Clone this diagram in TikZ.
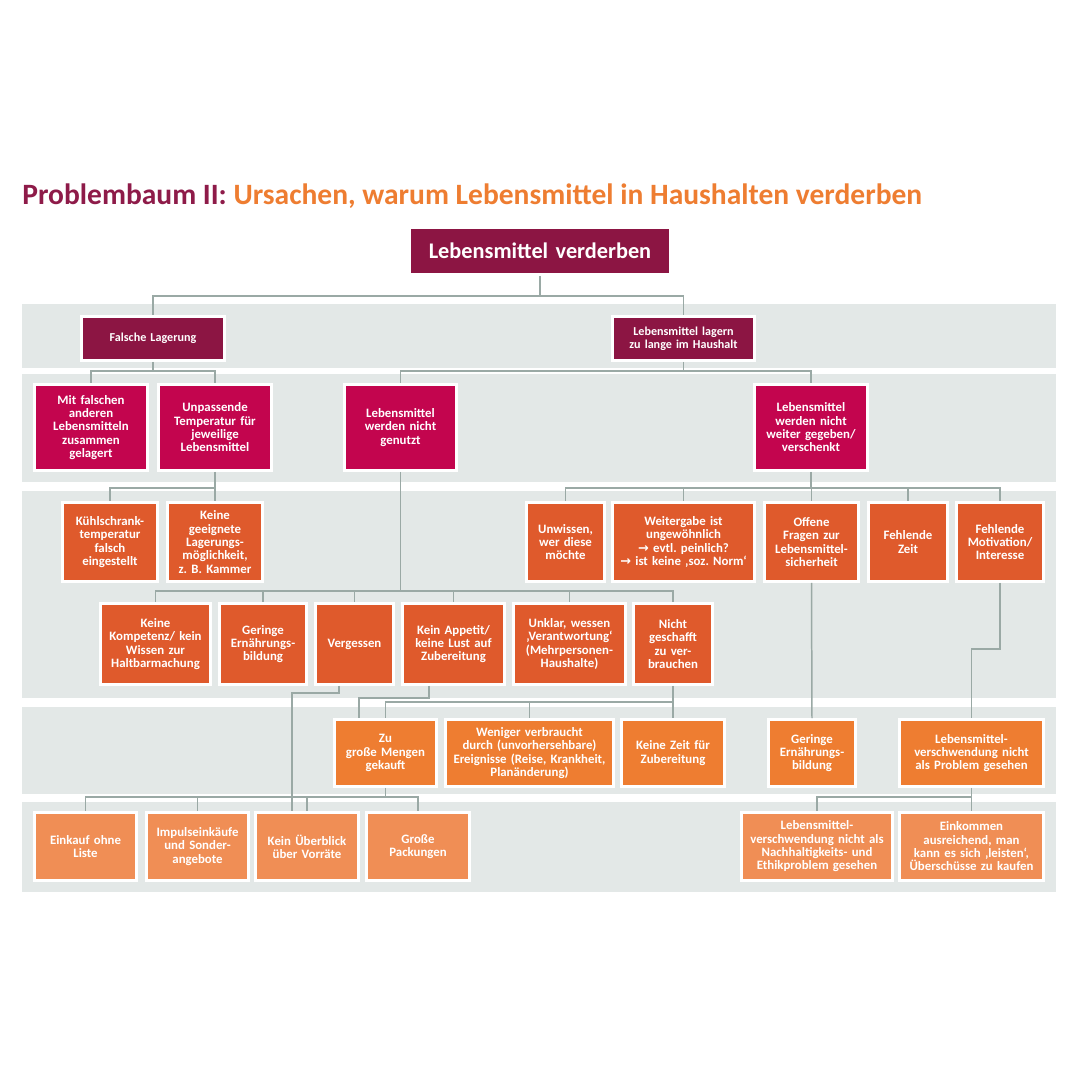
\documentclass[tikz,border=0pt]{standalone}
\usepackage{fontspec}
\setmainfont{Carlito}
\newfontfamily\arrfont{DejaVu Sans}
\usetikzlibrary{calc}
\definecolor{cBand}{HTML}{E3E8E7}
\definecolor{cRoot}{HTML}{8C1543}
\definecolor{cCrim}{HTML}{C3054E}
\definecolor{cRed}{HTML}{DF5A2C}
\definecolor{cOr}{HTML}{EE7D31}
\definecolor{cLt}{HTML}{F08E55}
\definecolor{cLine}{HTML}{9AA9A5}
\definecolor{cTitA}{HTML}{8E1B49}
\definecolor{cTitB}{HTML}{EE7D31}
\newcommand\bxfont{\fontsize{7.3pt}{7.6pt}\selectfont\bfseries\frenchspacing}
\newcommand\arw{{\arrfont →}}
\newcommand\bnode[7]{%
  \pgfmathsetlengthmacro\bw{(#5-#3)*0.02cm}%
  \pgfmathsetlengthmacro\bh{(#6-#4)*0.02cm}%
  \pgfmathsetlengthmacro\tw{(#5-#3-4)*0.02cm}%
  \node[#1, minimum width=\bw, minimum height=\bh, text width=\tw] (#2) at ({(#3+#5)/2},{(#4+#6)/2}) {#7};}
\begin{document}
\begin{tikzpicture}[x=0.02cm,y=-0.02cm,
  box/.style={align=center, inner sep=0pt, outer sep=1.7pt, text=white, font=\bxfont,
    preaction={draw=white, line width=3.4pt}},
  lroot/.style={box, fill=cRoot, font=\fontsize{12.7pt}{14pt}\selectfont\bfseries},
  lone/.style={box, fill=cRoot, font=\fontsize{6.9pt}{7.5pt}\selectfont\bfseries},
  ltwo/.style={box, fill=cCrim},
  lthree/.style={box, fill=cRed},
  lfour/.style={box, fill=cOr},
  lfive/.style={box, fill=cLt},
  band/.style={fill=cBand},
  conn/.style={draw=cLine, line width=0.85pt}]
\useasboundingbox (0,0) rectangle (1080,1080);
\fill[white] (0,0) rectangle (1080,1080);
% bands
\fill[band] (22,304) rectangle (1056,368);
\fill[band] (22,374) rectangle (1056,482);
\fill[band] (22,491) rectangle (1056,698);
\fill[band] (22,707) rectangle (1056,794);
\fill[band] (22,802) rectangle (1056,892);
% title
\node[anchor=base west, inner sep=0pt, font=\fontsize{16.8pt}{19pt}\selectfont\bfseries] (title) at (22,204)
  {\textcolor{cTitA}{Problembaum II:} \textcolor{cTitB}{Ursachen, warum Lebensmittel in Haushalten verderben}};
% root and level 1
\bnode{lroot}{root}{411}{229}{669}{273}{Lebensmittel verderben}
\bnode{lone}{fl}{83}{318}{223}{359}{Falsche Lagerung}
\bnode{lone}{lz}{614}{318}{753}{359}{Lebensmittel lagern\\zu lange im Haushalt}
% level 2
\bnode{ltwo}{mit}{36}{386}{146}{469}{Mit falschen\\anderen\\Lebensmitteln\\zusammen\\gelagert}
\bnode{ltwo}{unp}{160}{386}{270}{469}{Unpassende\\Temperatur für\\jeweilige\\Lebensmittel}
\bnode{ltwo}{gen}{346}{386}{455}{469}{Lebensmittel\\werden nicht\\genutzt}
\bnode{ltwo}{wei}{756}{386}{866}{469}{Lebensmittel\\werden nicht\\weiter gegeben/\\verschenkt}
% level 3 upper
\bnode{lthree}{kue}{64}{504}{156}{580}{Kühlschrank-\\temperatur\\falsch\\eingestellt}
\bnode{lthree}{kgl}{169}{504}{261}{580}{Keine\\geeignete\\Lagerungs-\\möglichkeit,\\z. B. Kammer}
\bnode{lthree}{unw}{528}{504}{603}{580}{Unwissen,\\wer diese\\möchte}
\bnode{lthree}{wtg}{614}{504}{753}{580}{Weitergabe ist\\ungewöhnlich\\\arw{} evtl. peinlich?\\\arw{} ist keine ‚soz. Norm‘}
\bnode{lthree}{off}{766}{504}{857}{580}{Offene\\Fragen zur\\Lebensmittel-\\sicherheit}
\bnode{lthree}{fz}{870}{504}{946}{580}{Fehlende\\Zeit}
\bnode{lthree}{mot}{958}{504}{1042}{580}{Fehlende\\Motivation/\\Interesse}
% level 3 lower
\bnode{lthree}{kom}{102}{605}{209}{683}{Keine\\Kompetenz/ kein\\Wissen zur\\Haltbarmachung}
\bnode{lthree}{ger}{221}{605}{305}{683}{Geringe\\Ernährungs-\\bildung}
\bnode{lthree}{verg}{317}{605}{392}{683}{Vergessen}
\bnode{lthree}{app}{404}{605}{503}{683}{Kein Appetit/\\keine Lust auf\\Zubereitung}
\bnode{lthree}{unk}{515}{605}{624}{683}{Unklar, wessen\\‚Verantwortung‘\\(Mehrpersonen-\\Haushalte)}
\bnode{lthree}{nic}{635}{605}{711}{683}{Nicht\\geschafft\\zu ver-\\brauchen}
% level 4
\bnode{lfour}{zug}{336}{721}{435}{785}{Zu\\große Mengen\\gekauft}
\bnode{lfour}{wen}{447}{721}{612}{785}{Weniger verbraucht\\durch (unvorhersehbare)\\Ereignisse (Reise, Krankheit,\\Planänderung)}
\bnode{lfour}{kz}{623}{721}{723}{785}{Keine Zeit für\\Zubereitung}
\bnode{lfour}{gerb}{770}{721}{854}{785}{Geringe\\Ernährungs-\\bildung}
\bnode{lfour}{lvs}{901}{721}{1042}{785}{Lebensmittel-\\verschwendung nicht\\als Problem gesehen}
% level 5
\bnode{lfive}{eol}{36}{814}{135}{879}{Einkauf ohne\\Liste}
\bnode{lfive}{imp}{148}{814}{247}{879}{Impulseinkäufe\\und Sonder-\\angebote}
\bnode{lfive}{ueb}{257}{814}{357}{879}{Kein Überblick\\über Vorräte}
\bnode{lfive}{grp}{368}{814}{468}{879}{Große\\Packungen}
\bnode{lfive}{nhe}{743}{814}{891}{879}{Lebensmittel-\\verschwendung nicht als\\Nachhaltigkeits- und\\Ethikproblem gesehen}
\bnode{lfive}{eink}{901}{814}{1042}{879}{Einkommen\\ausreichend, man\\kann es sich ‚leisten‘,\\Überschüsse zu kaufen}
% connectors
\draw[conn] (root.south) -- (root.south |- 0,296) -| (fl.north);
\draw[conn] (root.south |- 0,296) -| (lz.north);
\draw[conn] (fl.south) -- (fl.south |- 0,371) -| (mit.north);
\draw[conn] (fl.south |- 0,371) -| (unp.north);
\draw[conn] (lz.south) -- (lz.south |- 0,371) -| (gen.north);
\draw[conn] (lz.south |- 0,371) -| (wei.north);
\draw[conn] (unp.south) -- (unp.south |- 0,488) -| (kue.north);
\draw[conn] (unp.south |- 0,488) -| (kgl.north);
\draw[conn] (wei.south) -- (wei.south |- 0,488) -| (unw.north);
\foreach \c in {wtg,off,fz,mot} \draw[conn] (wei.south |- 0,488) -| (\c.north);
\draw[conn] (gen.south) -- (gen.south |- 0,591) -| (kom.north);
\foreach \c in {ger,verg,app,unk,nic} \draw[conn] (gen.south |- 0,591) -| (\c.north);
\draw[conn] ($(verg.south)+(-15.5,0)$) -- ++(0,7) -| ($(ueb.north)+(-15,0)$);
\draw[conn] ($(app.south)+(-24.5,0)$) -- ++(0,12) -| ($(zug.north)+(-26.5,0)$);
\draw[conn] (nic.south) -- (nic.south |- 0,702) -| (zug.north);
\draw[conn] (nic.south |- 0,702) -| (wen.north);
\draw[conn] (nic.south |- 0,702) -- (kz.north);
\draw[conn] (off.south) -- (gerb.north);
\draw[conn] (mot.south) -- (mot.south |- 0,649) -| (lvs.north);
\draw[conn] (zug.south) -- (zug.south |- 0,797) -| (eol.north);
\foreach \c in {imp,ueb,grp} \draw[conn] (zug.south |- 0,797) -| (\c.north);
\draw[conn] (lvs.south) -- (lvs.south |- 0,797) -| (nhe.north);
\draw[conn] (lvs.south |- 0,797) -- (eink.north);
\end{tikzpicture}
\end{document}
